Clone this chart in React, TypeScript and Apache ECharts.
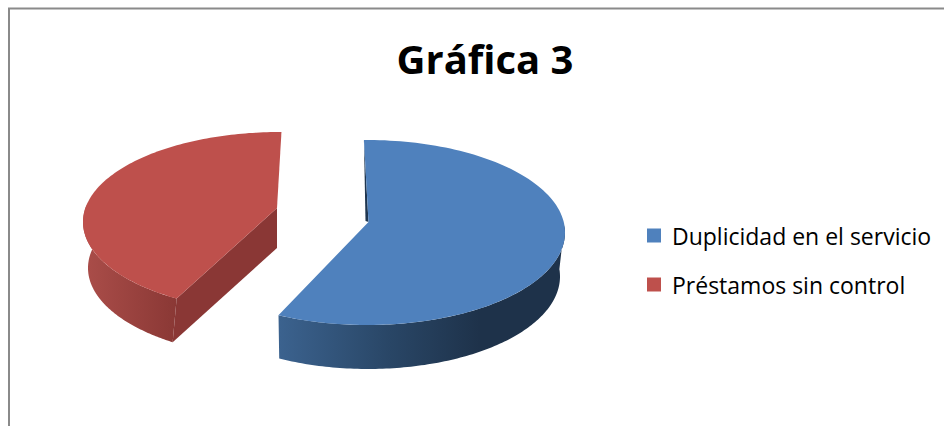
import React, { useEffect, useRef } from "react";
import * as echarts from "echarts";

const TITLE = "Gráfica 3";
const CATEGORIES = ["Duplicidad en el servicio", "Préstamos sin control"];
const VALUES = [57.2, 42.8];
const TOP_COLORS = ["#4f81bd", "#be504c"];

type Pt = [number, number];
type Ell = { cx: number; cy: number; rx: number; ry: number };
type Slice = {
  start: number;
  top: Ell;
  apex: Pt;
  bottom: Ell;
  apexBottom: Pt;
  wallFrom: number;
  wallTo: number;
  sideStops: [number, string][];
  gradX: [number, number];
};

const FORESHORTEN = 0.47;
const SLICES: Slice[] = [
  {
    start: -1.5,
    top: { cx: 367, cy: 232.5, rx: 198, ry: 92.5 },
    apex: [368.5, 222],
    bottom: { cx: 368, cy: 276.5, rx: 192, ry: 92.5 },
    apexBottom: [368.5, 266],
    wallFrom: 92,
    wallTo: 204.4,
    sideStops: [[0, "#3b628e"], [0.55, "#294666"], [1, "#1e324a"]],
    gradX: [280, 480],
  },
  {
    start: 207.5,
    top: { cx: 280, cy: 222, rx: 197, ry: 90 },
    apex: [277, 208],
    bottom: { cx: 283, cy: 268, rx: 195, ry: 90 },
    apexBottom: [277, 248],
    wallFrom: 207.5,
    wallTo: 272,
    sideStops: [[0, "#aa4d49"], [1, "#8a3835"]],
    gradX: [85, 177],
  },
];

// Point on the rim of an ellipse along the ray leaving `apex` at pie angle deg
function rim(deg: number, e: Ell, apex: Pt): Pt {
  const a = (deg * Math.PI) / 180;
  const dx = Math.sin(a);
  const dy = -FORESHORTEN * Math.cos(a);
  const ox = (apex[0] - e.cx) / e.rx;
  const oy = (apex[1] - e.cy) / e.ry;
  const ux = dx / e.rx;
  const uy = dy / e.ry;
  const A = ux * ux + uy * uy;
  const B = 2 * (ox * ux + oy * uy);
  const C = ox * ox + oy * oy - 1;
  const t = (-B + Math.sqrt(B * B - 4 * A * C)) / (2 * A);
  return [apex[0] + dx * t, apex[1] + dy * t];
}

function arc(from: number, to: number, e: Ell, apex: Pt): Pt[] {
  const pts: Pt[] = [];
  const n = 120;
  for (let i = 0; i <= n; i++) pts.push(rim(from + ((to - from) * i) / n, e, apex));
  return pts;
}

const total = VALUES.reduce((s, v) => s + v, 0);

function sliceItem(i: number) {
  const s = SLICES[i];
  const end = s.start + (VALUES[i] / total) * 360;
  const topArc = arc(s.start, end, s.top, s.apex);
  const wallTo = Math.min(s.wallTo, end);
  const wallTop = arc(s.wallFrom, wallTo, s.top, s.apex);
  const wallBottom = arc(s.wallFrom, wallTo, s.bottom, s.apexBottom);
  const children: any[] = [];
  children.push({
    type: "polygon",
    shape: { points: [...wallTop, ...wallBottom.slice().reverse()] },
    style: {
      fill: new echarts.graphic.LinearGradient(
        s.gradX[0], 0, s.gradX[1], 0,
        s.sideStops.map(([offset, color]) => ({ offset, color })),
        true
      ),
    },
  });
  if (i === 1) {
    children.push({
      type: "polygon",
      shape: { points: [s.apex, topArc[0], rim(s.start, s.bottom, s.apexBottom), s.apexBottom] },
      style: { fill: "#8a3735" },
    });
  } else {
    children.push({
      type: "polygon",
      shape: { points: [topArc[0], s.apex, [s.apex[0] - 3, s.apex[1] - 1]] },
      style: { fill: "#1f3650" },
    });
  }
  children.push({
    type: "polygon",
    shape: { points: [s.apex, ...topArc] },
    style: { fill: TOP_COLORS[i] },
  });
  return { type: "group", children };
}

export default function App() {
  const ref = useRef<HTMLDivElement>(null);
  useEffect(() => {
    document.body.style.margin = "0";
    const chart = echarts.init(ref.current!, undefined, { renderer: "svg" });
    chart.setOption({
      animation: false,
      backgroundColor: "#ffffff",
      title: {
        text: TITLE,
        left: 485,
        top: 38,
        padding: 0,
        textAlign: "center",
        textStyle: { fontFamily: "Open Sans", fontWeight: "bold", fontSize: 40, color: "#000000" },
      },
      legend: {
        orient: "vertical",
        left: 647,
        top: 224,
        padding: 0,
        itemWidth: 14,
        itemHeight: 14,
        itemGap: 26,
        icon: "rect",
        selectedMode: false,
        data: CATEGORIES,
        textStyle: { fontFamily: "Open Sans", fontSize: 23, color: "#000000", padding: [0, 0, 0, 6] },
      },
      graphic: [
        {
          type: "polyline",
          shape: { points: [[9, 426], [9, 8.5], [944, 8.5]] },
          style: { stroke: "#8a8a8a", lineWidth: 2, fill: "none" },
        },
      ],
      series: CATEGORIES.map((name, i) => ({
        type: "custom",
        name,
        coordinateSystem: "none",
        silent: true,
        itemStyle: { color: TOP_COLORS[i] },
        data: [VALUES[i]],
        renderItem: () => sliceItem(i),
      })),
    });
    return () => chart.dispose();
  }, []);
  return <div ref={ref} style={{ position: "absolute", left: 0, top: 0, width: 944, height: 426 }} />;
}
